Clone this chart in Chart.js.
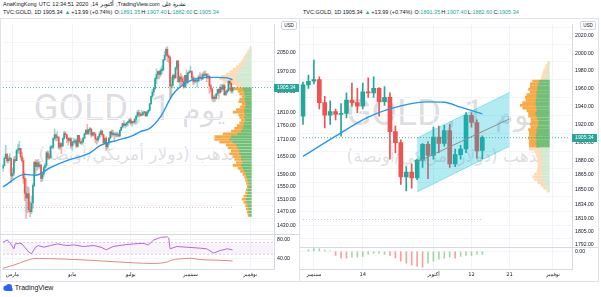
<!DOCTYPE html>
<html>
<head>
<meta charset="utf-8">
<script src="https://cdn.jsdelivr.net/npm/chart.js@4.4.1/dist/chart.umd.min.js"></script>
<style>
  body { margin: 0; width: 601px; height: 297px; background: #fff; position: relative; overflow: hidden;
         font-family: "Liberation Sans", Arial, sans-serif; color: #131722; }
  .hdr { position: absolute; font-size: 10px; transform: scale(.55); transform-origin: 0 0; white-space: nowrap; }
  .hdr span { display: inline-block; margin-right: 4px; }
  .hdr .v { color: #26a69a; margin-right: 2px; }
  .frame { position: absolute; border: 1px solid #e0e3eb; box-sizing: border-box; }
  .wm { position: absolute; color: rgba(120,123,134,.25); white-space: nowrap; text-align: center; }
  .wm span { display: inline-block; }
  .wm .ar { font-size: 30px; }
  canvas { position: absolute; }
  .usd { position: absolute; width: 14px; height: 7px; border: 1px solid #d1d4dc; border-radius: 2px; background: #fff;
         font-size: 4.6px; line-height: 7px; text-align: center; color: #131722; }
  .logo { position: absolute; left: 3px; top: 284px; font-size: 7px; color: #131722; }
</style>
</head>
<body>

<!-- header lines -->
<div class="hdr" style="left:3px;top:1px">
  <span>AnaKingKong</span><span>UTC</span><span>12:34:51</span><span>2020</span><span>,14</span><span dir="rtl">أكتوبر</span><span>,TradingView.com</span><span dir="rtl">نشرة على</span>
</div>
<div class="hdr" style="left:3px;top:9px">
  <span>TVC:GOLD, 1D 1905.34</span><span class="v">▲</span><span>+13.99 (+0.74%)</span><span style="margin-right:0">O:</span><span class="v">1891.35</span><span style="margin-right:0">H:</span><span class="v">1907.40</span><span style="margin-right:0">L:</span><span class="v">1882.60</span><span style="margin-right:0">C:</span><span class="v">1905.34</span>
</div>
<div class="hdr" style="left:303px;top:9px">
  <span>TVC:GOLD, 1D 1905.34</span><span class="v">▲</span><span>+13.99 (+0.74%)</span><span style="margin-right:0">O:</span><span class="v">1891.35</span><span style="margin-right:0">H:</span><span class="v">1907.40</span><span style="margin-right:0">L:</span><span class="v">1882.60</span><span style="margin-right:0">C:</span><span class="v">1905.34</span>
</div>

<div class="frame" style="left:0;top:18px;width:300px;height:264px"></div>
<div class="frame" style="left:299px;top:18px;width:300px;height:264px"></div>

<!-- watermarks (behind the canvases) -->
<div class="wm" style="left:-7px;top:86px;width:272px;font:37px Roboto">
  <span>GOLD</span><span style="margin:0 10px 0 6px">, 1</span><span class="ar" dir="rtl">يوم</span>
</div>
<div class="wm" dir="rtl" style="left:3px;top:144px;width:272px;font:17px 'DejaVu Sans'">الذهب (دولار أمريكي/أونصة)</div>
<div class="wm" style="left:306px;top:91px;width:272px;font:37px Roboto">
  <span>GOLD</span><span style="margin:0 10px 0 6px">, 1</span><span class="ar" dir="rtl">يوم</span>
</div>
<div class="wm" dir="rtl" style="left:311px;top:146px;width:272px;font:17px 'DejaVu Sans'">الذهب (دولار أمريكي/أونصة)</div>

<canvas id="goldLeft" width="300" height="263" style="left:0;top:18px"></canvas>
<canvas id="goldRight" width="298" height="263" style="left:300px;top:18px"></canvas>

<div class="usd" style="left:281px;top:21px">USD</div>
<div class="usd" style="left:580px;top:21px">USD</div>

<div class="logo">
  <svg width="10" height="7" viewBox="0 0 10 7" style="vertical-align:-1px"><circle cx="3" cy="4.2" r="2.6" fill="#2962ff"/><circle cx="6" cy="3" r="3" fill="#2962ff"/><rect x="3" y="4" width="6.5" height="3" fill="#2962ff"/></svg>
  TradingView
</div>

<script>
// --- Data: TVC:GOLD daily, 20 Feb 2020 - 14 Oct 2020 ---
const firstDay = '2020-02-20';
const totalBars = 200; // incl. empty future bars on the left chart

const opens = [
  1611, 1619, 1643, 1659, 1635, 1642, 1643,
  1585, 1593, 1640, 1636, 1672, 1674, 1679, 1649, 1636, 1577, 1529, 1514, 1527, 1477, 1471, 1498, 1553, 1631, 1617, 1629, 1617, 1621,
  1577, 1591, 1613, 1620, 1663, 1647, 1646, 1683, 1683, 1714, 1727, 1716, 1717, 1683, 1695, 1686, 1714, 1731, 1727, 1713, 1707, 1713,
  1687, 1700, 1701, 1705, 1686, 1725, 1702, 1697, 1702, 1715, 1730, 1744, 1732, 1746, 1747, 1725, 1734, 1729, 1711, 1708, 1719,
  1730, 1740, 1727, 1699, 1713, 1684, 1698, 1715, 1737, 1728, 1730, 1726, 1726, 1727, 1723, 1743, 1754, 1768, 1761, 1764, 1771, 1773,
  1781, 1770, 1775, 1773, 1784, 1795, 1809, 1803, 1798, 1802, 1809, 1810, 1796, 1810, 1817, 1842, 1871, 1888, 1902, 1941, 1958, 1970, 1958,
  1975, 1977, 2019, 2038, 2063, 2035, 2028, 1911, 1915, 1954, 1944, 1985, 2013, 1929, 1947, 1940, 1929, 1908, 1954, 1929, 1964,
  1968, 1970, 1944, 1930, 1934, 1931, 1932, 1947, 1944, 1940, 1956, 1955, 1960, 1945, 1950, 1912, 1900, 1863, 1868, 1862, 1881, 1898,
  1886, 1906, 1899, 1913, 1877, 1887, 1893, 1930, 1922, 1891.35
];
const highs = [
  1623, 1649, 1689, 1660, 1651, 1660, 1645,
  1611, 1649, 1652, 1674, 1692, 1703, 1679, 1666, 1645, 1595, 1575, 1550, 1547, 1502, 1520, 1560, 1632, 1640, 1638, 1641, 1633, 1623,
  1594, 1617, 1627, 1668, 1671, 1660, 1690, 1685, 1716, 1747, 1729, 1737, 1721, 1700, 1698, 1716, 1739, 1738, 1728, 1716, 1718, 1717,
  1703, 1715, 1711, 1711, 1725, 1722, 1715, 1710, 1717, 1733, 1745, 1765, 1747, 1754, 1748, 1737, 1736, 1735, 1716, 1721, 1737,
  1746, 1743, 1730, 1717, 1720, 1700, 1716, 1739, 1745, 1744, 1735, 1737, 1735, 1733, 1745, 1757, 1769, 1779, 1767, 1772, 1774, 1785,
  1789, 1776, 1777, 1786, 1797, 1818, 1817, 1809, 1817, 1811, 1814, 1812, 1813, 1820, 1844, 1873, 1898, 1906, 1945, 1981, 1971, 1975, 1984,
  1994, 2021, 2055, 2070, 2075, 2040, 2034, 1947, 1958, 1961, 1989, 2016, 2016, 1952, 1963, 1952, 1947, 1954, 1976, 1967, 1975,
  1992, 1973, 1951, 1946, 1937, 1943, 1955, 1966, 1960, 1966, 1972, 1973, 1961, 1962, 1955, 1918, 1903, 1874, 1877, 1882, 1899, 1901,
  1917, 1918, 1919, 1920, 1893, 1897, 1933, 1933, 1925, 1907.40
];
const lows = [
  1599, 1618, 1643, 1628, 1628, 1636, 1563,
  1575, 1586, 1630, 1636, 1662, 1660, 1640, 1630, 1560, 1505, 1451, 1468, 1470, 1455, 1465, 1482, 1550, 1590, 1603, 1610, 1610, 1566,
  1568, 1583, 1600, 1613, 1640, 1640, 1644, 1679, 1677, 1708, 1705, 1707, 1675, 1676, 1660, 1686, 1710, 1717, 1699, 1691, 1700, 1679,
  1672, 1690, 1696, 1681, 1683, 1698, 1693, 1692, 1698, 1712, 1728, 1727, 1726, 1739, 1717, 1722, 1722, 1698, 1693, 1701, 1712,
  1725, 1721, 1694, 1697, 1671, 1676, 1691, 1712, 1718, 1723, 1704, 1718, 1720, 1718, 1720, 1742, 1750, 1757, 1751, 1756, 1760, 1769,
  1764, 1758, 1766, 1765, 1772, 1794, 1796, 1794, 1797, 1797, 1799, 1794, 1795, 1803, 1815, 1839, 1863, 1875, 1897, 1920, 1940, 1940, 1950,
  1960, 1972, 2014, 2032, 2012, 2007, 1863, 1874, 1905, 1935, 1942, 1978, 1925, 1912, 1915, 1916, 1902, 1905, 1911, 1920, 1960,
  1965, 1937, 1916, 1920, 1925, 1907, 1927, 1940, 1933, 1937, 1950, 1950, 1929, 1941, 1882, 1889, 1855, 1848, 1851, 1860, 1873, 1861,
  1882, 1889, 1896, 1873, 1874, 1882, 1889, 1917, 1883, 1882.60
];
const closes = [
  1619, 1643, 1659, 1635, 1642, 1643, 1585,
  1593, 1640, 1636, 1672, 1674, 1679, 1649, 1636, 1577, 1529, 1514, 1527, 1477, 1471, 1498, 1553, 1631, 1617, 1629, 1617, 1621, 1577,
  1591, 1613, 1620, 1663, 1647, 1646, 1683, 1683, 1714, 1727, 1716, 1717, 1683, 1695, 1686, 1714, 1731, 1727, 1713, 1707, 1713, 1687,
  1700, 1701, 1705, 1686, 1725, 1702, 1697, 1702, 1715, 1730, 1744, 1732, 1746, 1747, 1725, 1734, 1729, 1711, 1708, 1719, 1730,
  1740, 1727, 1699, 1713, 1684, 1698, 1715, 1737, 1728, 1730, 1726, 1726, 1727, 1723, 1743, 1754, 1768, 1761, 1764, 1771, 1773, 1781,
  1770, 1775, 1773, 1784, 1795, 1809, 1803, 1798, 1802, 1809, 1810, 1796, 1810, 1817, 1842, 1871, 1888, 1902, 1941, 1958, 1970, 1958, 1975,
  1977, 2019, 2038, 2063, 2035, 2028, 1911, 1915, 1954, 1944, 1985, 2013, 1929, 1947, 1940, 1929, 1908, 1954, 1929, 1964, 1968,
  1970, 1944, 1930, 1934, 1931, 1932, 1947, 1944, 1940, 1956, 1955, 1960, 1945, 1950, 1912, 1900, 1863, 1868, 1862, 1881, 1898, 1886,
  1906, 1899, 1913, 1877, 1887, 1893, 1930, 1922, 1891, 1905.34
];
const lastPrice = 1905.34;

// moving average lines
const maLeftDates = ['2020-02-20','2020-03-13','2020-03-25','2020-04-09','2020-04-27','2020-05-20','2020-06-01','2020-06-17','2020-07-03','2020-07-10','2020-07-21','2020-07-31','2020-08-13','2020-08-27','2020-09-10','2020-09-29','2020-10-08','2020-10-14'];
const maLeftValues = [1549, 1590, 1587, 1613, 1636, 1663, 1690, 1707, 1725, 1738, 1750, 1793, 1878, 1925, 1944, 1946, 1944, 1937];
const maRightDates = ['2020-08-28','2020-09-07','2020-09-15','2020-09-23','2020-09-30','2020-10-05','2020-10-08','2020-10-14'];
const maRightValues = [1885, 1907, 1928, 1940.5, 1945, 1944.5, 1939, 1931.5];

// lower pane (left): purple oscillator + red line
const oscDates = ['2020-02-20','2020-02-25','2020-02-27','2020-03-03','2020-03-04','2020-03-09','2020-03-11','2020-03-13','2020-03-18','2020-03-20','2020-03-25','2020-03-27','2020-04-02','2020-04-09','2020-04-16','2020-04-27','2020-05-04','2020-05-13','2020-05-25','2020-06-01','2020-06-05','2020-06-12','2020-06-24','2020-07-03','2020-07-14','2020-07-20','2020-07-24','2020-07-31','2020-08-07','2020-08-10','2020-08-11','2020-08-18','2020-08-27','2020-09-10','2020-09-17','2020-09-24','2020-10-01','2020-10-08','2020-10-14'];
const oscValues = [74.3, 79.4, 74.3, 60.4, 70.9, 72.3, 70.9, 63.9, 53.3, 49.8, 63.9, 67.4, 63.9, 67.4, 70.9, 67.4, 68.8, 65.3, 67.4, 63.9, 58.3, 65.3, 68.8, 70.9, 72.3, 68.8, 79.4, 84.9, 86.3, 83.5, 60.4, 65.3, 63.9, 61.8, 60.4, 51.2, 56.8, 60.4, 58.3];
const slowDates = ['2020-02-20','2020-03-03','2020-03-17','2020-03-24','2020-03-30','2020-04-27','2020-06-01','2020-07-03','2020-07-24','2020-08-07','2020-08-12','2020-08-20','2020-09-01','2020-09-10','2020-09-28','2020-10-14'];
const slowValues = [18.3, 25.3, 35.8, 39.3, 39.3, 37.9, 34.4, 30.1, 28.8, 32.2, 35.8, 38.5, 40, 37.2, 35.8, 34.4];
const oscBand = [74, 48.5];

// lower pane (right): histogram from 31 Aug
const histStart = '2020-08-31';
const histValues = [2, 3, 3, 1.5, 0.5, -4, -7, -7, -6, -6, -5, -3, -2, -2, -3, -4, -7, -10, -12, -14, -15, -16,
                    -12, -10, -8, -7, -6, -7, -5, -4, -4, -3, -3];
const histUp = [1,1,1,1,1,0,0,0,1,1,1,1,1,1,1,0,0,0,0,0,0,0, 1,1,1,1,1,0,1,1,1,1,1];

// volume profiles: row price, up volume, down volume
const profLeftPrice = [2070,2060,2050,2040,2030,2020,2010,2000,1990,1980,1970,1960,1950,1940,1930,1920,1910,
  1900,1890,1880,1870,1860,1850,1840,1830,1820,1810,1800,1790,1780,1770,1760,1750,1740,1730,1720,1710,1700,1690,1680,1670,
  1660,1650,1640,1630,1620,1610,1600,1590,1580,1570,1560,1550,1540,1530,1520,1510,1500,1490,1480,1470,1460];
const profLeftUp = [1,2,3,4,5,6,7,8,10,12,14,16,18,18,16,12,10,
  10,8,8,7,8,7,6,7,8,8,7,8,7,8,9,10,12,16,24,26,22,18,16,14,14,12,12,10,12,10,8,6,5,4,3,3,4,4,5,6,5,4,3,3,2];
const profLeftDown = [1,1,2,3,4,4,5,7,8,10,12,14,18,20,18,12,8,
  18,8,6,4,6,8,5,6,10,14,8,6,5,6,8,10,12,18,20,18,16,12,12,10,12,10,8,8,10,6,5,4,3,3,3,2,2,3,4,5,4,3,3,2,2];
const valueAreaLeft = [1455, 1905];

const profRightPrice = [1989,1986,1983,1980,1977,1974,1971,1968,1965,1962,1959,1956,1953,1950,1947,1944,1941,1938,1935,1932,
  1929,1926,1923,1920,1917,1914,1911,1908,1905,1902,1899,1896,1893,1890,1887,1884,1881,1878,1875,1872,1869,1866,1863,1860,1857,1854,1851,1848];
const profRightUp = [0,1,1,2,2,3,4,12,13,14,14,15,15,15,16,16,16,15,15,16,15,14,13,13,14,15,15,16,16,15,16,15,
  12,10,9,9,8,8,9,8,7,8,9,8,6,4,3,1];
const profRightDown = [2,3,4,5,6,6,6,8,10,9,11,8,12,14,12,16,19,17,12,9,10,8,9,10,8,10,9,8,9,9,8,9,
  12,8,7,6,6,6,5,6,8,10,11,10,8,6,4,2];
const valueAreaRight = [1895, 1970];

// channel drawn on the right chart (start / end)
const channelDates = ['2020-09-28', '2020-10-21'];
const channelTop = [1905, 1955.5];
const channelMid = [1879, 1926];
const channelBottom = [1847, 1896];

const levelLeft = 1484, levelRight = 1818; // grey dotted levels

// tick labels
const leftPriceTicks = [2050, 1970, 1890, 1810, 1760, 1710, 1650, 1590, 1550, 1510, 1470, 1430];
const rightPriceTicks = [2020, 2000, 1980, 1960, 1940, 1920, 1900, 1880, 1865, 1850, 1834, 1819, 1805, 1792];
const leftDateTicks = { '2020-03-02': 'مارس', '2020-05-01': 'مايو', '2020-07-01': 'يوليو', '2020-09-01': 'سبتمبر', '2020-11-02': 'نوفمبر' };
const rightDateTicks = { '2020-09-01': 'سبتمبر', '2020-09-14': '14', '2020-10-01': 'أكتوبر', '2020-10-12': '12', '2020-10-21': '21', '2020-11-02': 'نوفمبر' };

// --- helpers ---
function tradingDays(start, n) {
  const out = [], d = new Date(start + 'T00:00:00Z');
  while (out.length < n) {
    const wd = d.getUTCDay();
    if (wd > 0 && wd < 6) out.push(d.toISOString().slice(0, 10));
    d.setUTCDate(d.getUTCDate() + 1);
  }
  return out;
}
const allDays = tradingDays(firstDay, totalBars);

const UP = '#26a69a', DOWN = '#ef5350';
const FONT = { family: 'Liberation Sans', size: 5.2 };
const pairs = (dates, vals) => dates.map((d, i) => ({ x: d, y: vals[i] }));

// axis tag, pane separator
const paneDecor = {
  id: 'paneDecor',
  afterDraw(chart) {
    const { ctx, chartArea } = chart;
    const lower = chart.scales.lower;
    ctx.save();
    ctx.strokeStyle = '#d6d9e0';
    ctx.lineWidth = 1;
    ctx.beginPath();
    ctx.moveTo(0, Math.round(lower.top) + 0.5);
    ctx.lineTo(chart.width, Math.round(lower.top) + 0.5);
    ctx.stroke();
    const y = chart.scales.y.getPixelForValue(lastPrice);
    ctx.fillStyle = '#26a69a';
    ctx.fillRect(chartArea.right, Math.round(y) - 4, 25, 8);
    ctx.fillStyle = '#fff';
    ctx.font = '5.2px "Liberation Sans"';
    ctx.textBaseline = 'middle';
    ctx.fillText(lastPrice.toFixed(2), chartArea.right + 3, Math.round(y));
    ctx.restore();
  }
};

function candleSets(from, to, bodyW, wickAlpha) {
  const body = [], wick = [], col = [], wcol = [];
  for (let i = from; i < to; i++) {
    body.push({ x: allDays[i], y: [opens[i], closes[i]] });
    wick.push({ x: allDays[i], y: [lows[i], highs[i]] });
    const c = closes[i] >= opens[i] ? UP : DOWN;
    col.push(c);
    wcol.push(wickAlpha < 1 ? (c === UP ? 'rgba(38,166,154,' + wickAlpha + ')' : 'rgba(239,83,80,' + wickAlpha + ')') : c);
  }
  return [
    { type: 'bar', data: body, backgroundColor: col, barThickness: bodyW, grouped: false, order: 20, minBarLength: 1 },
    { type: 'bar', data: wick, backgroundColor: wcol, barThickness: 1, grouped: false, order: 21 }
  ];
}

function profileSets(prices, up, down, area, thick) {
  const inArea = p => p >= area[0] && p <= area[1];
  return [
    { type: 'bar', indexAxis: 'y', xAxisID: 'xv', yAxisID: 'y', grouped: false, barThickness: thick, order: 40,
      data: prices.map((p, i) => ({ y: p, x: [0, up[i]] })),
      backgroundColor: prices.map(p => inArea(p) ? '#74bf77' : '#d3ead2') },
    { type: 'bar', indexAxis: 'y', xAxisID: 'xv', yAxisID: 'y', grouped: false, barThickness: thick, order: 41,
      data: prices.map((p, i) => ({ y: p, x: [up[i], up[i] + down[i]] })),
      backgroundColor: prices.map(p => inArea(p) ? '#f9aa45' : '#fcdcb8') }
  ];
}

function hline(days, value, color, order, yAxisID) {
  return { type: 'line', yAxisID: yAxisID || 'y', data: [{ x: days[0], y: value }, { x: days[1], y: value }],
           borderColor: color, borderWidth: 1, borderDash: [1, 2], pointRadius: 0, order };
}

function baseScales(days, dateTicks, yMin, yMax, priceTicks, axisW, lower) {
  return {
    x: {
      type: 'category', labels: days, offset: true,
      grid: { offset: false, drawTicks: false, color: c => (c.tick && dateTicks[days[c.tick.value]]) ? '#f0f3fa' : 'rgba(0,0,0,0)' },
      border: { color: '#d6d9e0' },
      ticks: { autoSkip: false, maxRotation: 0, minRotation: 0, padding: 3, color: '#131722',
               font: { family: 'DejaVu Sans', size: 5.2 }, callback: v => dateTicks[days[v]] || '' },
      afterFit: s => { s.height = 12; }
    },
    xv: { type: 'linear', position: 'top', display: false, reverse: true, min: 0, max: 272 },
    y: {
      type: 'logarithmic', position: 'right', stack: 'p', stackWeight: lower[0], weight: 1,
      min: yMin, max: yMax,
      afterBuildTicks: s => { s.ticks = priceTicks.map(v => ({ value: v })); },
      grid: { drawTicks: false, color: '#f3f5f9' },
      border: { color: '#d6d9e0' },
      ticks: { autoSkip: false, padding: 3, color: '#131722', font: FONT, callback: v => Number(v).toFixed(2) },
      afterFit: s => { s.width = axisW; }
    },
    lower: {
      axis: 'y', type: 'linear', position: 'right', stack: 'p', stackWeight: lower[1], weight: 2,
      min: lower[2], max: lower[3],
      afterBuildTicks: s => { s.ticks = lower[4].map(v => ({ value: v })); },
      grid: { drawTicks: false, color: '#f3f5f9' },
      border: { color: '#d6d9e0' },
      ticks: { autoSkip: false, padding: 3, color: '#131722', font: FONT, callback: v => Number(v).toFixed(2) },
      afterFit: s => { s.width = axisW; }
    }
  };
}

const common = {
  responsive: false, animation: false, devicePixelRatio: 1,
  plugins: { legend: { display: false }, tooltip: { enabled: false } }
};

// --- Left chart: whole period ---
const lastIdx = closes.length; // 170
new Chart(document.getElementById('goldLeft'), {
  type: 'bar',
  data: {
    labels: allDays,
    datasets: [
      hline([allDays[0], allDays[totalBars - 1]], lastPrice, 'rgba(38,166,154,0.8)', 1),
      { type: 'line', data: pairs(maLeftDates, maLeftValues), borderColor: '#2196f3', borderWidth: 1.4,
        pointRadius: 0, tension: 0.4, cubicInterpolationMode: 'monotone', order: 2 },
      ...candleSets(0, lastIdx, 1, 0.45),
      hline([allDays[0], allDays[lastIdx - 1]], levelLeft, 'rgba(200,150,160,0.6)', 30),
      ...profileSets(profLeftPrice, profLeftUp, profLeftDown, valueAreaLeft, 2),
      // lower pane
      { type: 'line', yAxisID: 'lower', data: pairs(oscDates, oscValues), borderColor: '#b36ad3', borderWidth: 1,
        pointRadius: 0, tension: 0, order: 3 },
      { type: 'line', yAxisID: 'lower', data: pairs(slowDates, slowValues), borderColor: '#d98b86', borderWidth: 1,
        pointRadius: 0, tension: 0.4, cubicInterpolationMode: 'monotone', order: 4 },
      { type: 'line', yAxisID: 'lower', data: [{ x: allDays[0], y: oscBand[0] }, { x: allDays[totalBars - 1], y: oscBand[0] }],
        borderColor: 'rgba(179,106,211,0.35)', borderWidth: 1, borderDash: [2, 2], pointRadius: 0,
        fill: '+1', backgroundColor: 'rgba(179,106,211,0.09)', order: 10 },
      { type: 'line', yAxisID: 'lower', data: [{ x: allDays[0], y: oscBand[1] }, { x: allDays[totalBars - 1], y: oscBand[1] }],
        borderColor: 'rgba(179,106,211,0.35)', borderWidth: 1, borderDash: [2, 2], pointRadius: 0, order: 11 }
    ]
  },
  options: {
    ...common,
    layout: { padding: { left: 2 } },
    scales: baseScales(allDays, leftDateTicks, 1404.7, 2174.5, leftPriceTicks, 26, [215, 36, 16.8, 92.6, [80, 40]])
  },
  plugins: [paneDecor]
});

// --- Right chart: last weeks ---
const rFrom = allDays.indexOf('2020-08-28');
const rightDays = allDays.slice(rFrom, rFrom + 50);
const hFrom = allDays.indexOf(histStart);
new Chart(document.getElementById('goldRight'), {
  type: 'bar',
  data: {
    labels: rightDays,
    datasets: [
      hline([rightDays[0], rightDays[rightDays.length - 1]], lastPrice, 'rgba(38,166,154,0.8)', 1),
      { type: 'line', data: pairs(channelDates, channelTop), borderColor: 'rgba(0,188,212,0.35)', borderWidth: 1,
        pointRadius: 0, fill: '+2', backgroundColor: 'rgba(0,188,212,0.3)', order: 5 },
      { type: 'line', data: pairs(channelDates, channelMid), borderColor: '#8a8d96', borderWidth: 1, pointRadius: 0, order: 4 },
      { type: 'line', data: pairs(channelDates, channelBottom), borderColor: 'rgba(0,188,212,0.35)', borderWidth: 1,
        pointRadius: 0, order: 6 },
      { type: 'line', data: pairs(maRightDates, maRightValues), borderColor: '#2196f3', borderWidth: 1.3,
        pointRadius: 0, tension: 0.4, cubicInterpolationMode: 'monotone', order: 7 },
      ...candleSets(rFrom, lastIdx, 4, 1),
      hline([rightDays[0], allDays[lastIdx - 1]], levelRight, 'rgba(150,155,165,0.5)', 30),
      ...profileSets(profRightPrice, profRightUp, profRightDown, valueAreaRight, 2.2),
      { type: 'bar', yAxisID: 'lower', grouped: false, barThickness: 1, order: 3,
        data: histValues.map((v, i) => ({ x: allDays[hFrom + i], y: v })),
        backgroundColor: histUp.map(u => u ? 'rgba(76,175,80,0.5)' : 'rgba(239,83,80,0.55)') }
    ]
  },
  options: {
    ...common,
    scales: baseScales(rightDays, rightDateTicks, 1790, 2033.6, rightPriceTicks, 26, [228, 23, -18, 5, [0]])
  },
  plugins: [paneDecor]
});
</script>
</body>
</html>
